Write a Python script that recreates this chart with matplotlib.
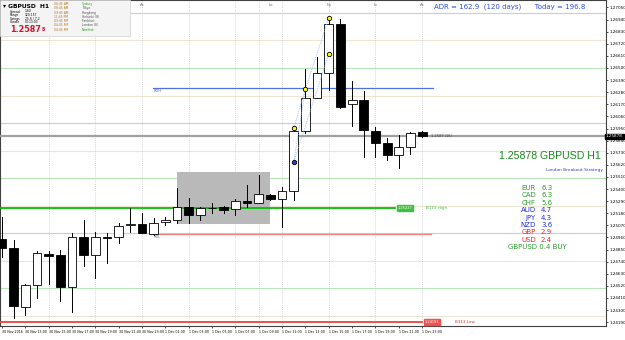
import matplotlib
matplotlib.use("Agg")
import matplotlib.pyplot as plt
import numpy as np
from matplotlib.patches import Rectangle

# Data (GBPUSD H1, 30 Nov 11:00 .. 1 Dec 23:00)
times = ["30 Nov 2016"] + ["30 Nov %02d:00" % h for h in range(12, 24)] + \
        ["1 Dec %02d:00" % h for h in range(0, 24)]
opens = [1.24945, 1.24864, 1.24327, 1.24527, 1.24809, 1.24800, 1.24509, 1.24964,
         1.24800, 1.24964, 1.24964, 1.25073, 1.25082, 1.24991, 1.25100, 1.25118,
         1.25236, 1.25164, 1.25227, 1.25236, 1.25218, 1.25291, 1.25273, 1.25345,
         1.25309, 1.25382, 1.25927, 1.26227, 1.26455, 1.26900, 1.26173, 1.26209,
         1.25927, 1.25818, 1.25709, 1.25782, 1.25918]
highs = [1.25145, 1.24936, 1.24536, 1.24836, 1.24836, 1.24845, 1.25000, 1.25118,
         1.25009, 1.25000, 1.25091, 1.25227, 1.25182, 1.25136, 1.25145, 1.25409,
         1.25318, 1.25236, 1.25273, 1.25245, 1.25309, 1.25436, 1.25527, 1.25355,
         1.25418, 1.25955, 1.26491, 1.26600, 1.26955, 1.26945, 1.26382, 1.26291,
         1.25964, 1.25864, 1.25891, 1.25918, 1.25927]
lows = [1.24782, 1.24227, 1.24255, 1.24409, 1.24536, 1.24382, 1.24282, 1.24700,
        1.24591, 1.24727, 1.24909, 1.25009, 1.25000, 1.24982, 1.25073, 1.25091,
        1.25091, 1.25118, 1.25182, 1.25182, 1.25164, 1.25236, 1.25273, 1.25300,
        1.25055, 1.25300, 1.25909, 1.26227, 1.26300, 1.26136, 1.25973, 1.25691,
        1.25691, 1.25664, 1.25591, 1.25718, 1.25873]
closes = [1.24864, 1.24336, 1.24527, 1.24818, 1.24795, 1.24509, 1.24964, 1.24800,
          1.24964, 1.24955, 1.25064, 1.25082, 1.25000, 1.25091, 1.25118, 1.25236,
          1.25164, 1.25227, 1.25232, 1.25209, 1.25291, 1.25273, 1.25355, 1.25309,
          1.25382, 1.25927, 1.26227, 1.26455, 1.26900, 1.26145, 1.26209, 1.25936,
          1.25818, 1.25709, 1.25782, 1.25909, 1.25878]

bid = 1.25878
b113_high = 1.25227
b113_low = 1.24191
rdh = 1.26318
rdl = 1.24991
box_start, box_end = 15, 23
box_hi, box_lo = 1.25555, 1.25082
quarter_levels = [1.2425, 1.2450, 1.2475, 1.2500, 1.2525, 1.2550, 1.2575,
                  1.2600, 1.2625, 1.2650, 1.2675, 1.2700]
swing_idx = [25, 26, 28, 28]
swing_val = [1.25955, 1.26309, 1.26955, 1.26627]
swing_base = (25, 1.25645)

currencies = ["EUR", "CAD", "CHF", "AUD", "JPY", "NZD", "GBP", "USD"]
strength = [6.3, 6.3, 5.6, 4.7, 4.3, 3.6, 2.9, 2.4]
adr, adr_days, today_range = 162.9, 120, 196.8

W, H = 625, 340
fig = plt.figure(figsize=(W / 100, H / 100), dpi=100)
ax = fig.add_axes([0, 14 / H, 606 / W, 326 / H])
ax.set_xlim(-0.17, 51.76)
ax.set_ylim(1.24155, 1.27118)


def fx(px):
    return px / W


def fy(py):
    return 1 - py / H


# level lines
for lv in quarter_levels:
    r = round(lv * 10000) % 100
    col = "#c8c8f0" if r == 0 else ("#b8e6b8" if r == 50 else "#ece6d2")
    ax.axhline(lv, color=col, lw=0.8, zorder=1)

# grid / session separators
for i in list(range(4, 40, 4)) + [22]:
    ax.axvline(i, color="#c8c8c8", lw=0.6, ls=(0, (1, 1.5)), zorder=1)

# range box
ax.add_patch(Rectangle((box_start, box_lo), box_end - box_start, box_hi - box_lo,
                       facecolor="#b9b9b9", edgecolor="none", zorder=2))

# levels
ax.plot([-0.2, 33.7], [b113_high] * 2, color="#00c000", lw=1.3, zorder=3)
ax.plot([-0.2, 36.0], [b113_low] * 2, color="#f04040", lw=1.3, zorder=3)
ax.plot([12.7, 36.8], [rdl] * 2, color="#f08080", lw=0.9, zorder=3)
ax.plot([12.9, 36.9], [rdh] * 2, color="#5070e0", lw=0.9, zorder=3)
ax.axhline(bid, color="#a0a0a0", lw=1.6, zorder=3)

ax.text(33.9, b113_high, "%.5f" % b113_high, fontsize=2.6, color="white",
        va="center", ha="left", zorder=6,
        bbox=dict(boxstyle="square,pad=0.25", fc="#40c040", ec="#40c040"))
ax.text(36.2, b113_low, "%.5f" % b113_low, fontsize=2.6, color="white",
        va="center", ha="left", zorder=6,
        bbox=dict(boxstyle="square,pad=0.25", fc="#f05050", ec="#f05050"))
ax.text(36.3, b113_high, "B113 High", fontsize=3, color="#40c040", va="center")
ax.text(38.8, b113_low, "B113 Low", fontsize=3, color="#e03030", va="center")
ax.text(13.0, rdl - 0.0003, "RDL", fontsize=2.6, color="#6060c0", va="center")
ax.text(13.0, rdh - 0.0003, "RDH", fontsize=2.6, color="#6060c0", va="center")
ax.text(36.8, bid, "1.2587 (16)", fontsize=2.6, color="#404040", va="center")

# candles
for i, (o, h, l, c) in enumerate(zip(opens, highs, lows, closes)):
    ax.plot([i, i], [l, h], color="black", lw=0.7, zorder=4)
    lo, hi = min(o, c), max(o, c)
    fc = "white" if c >= o else "black"
    ax.add_patch(Rectangle((i - 0.38, lo), 0.76, max(hi - lo, 0.00003),
                           facecolor=fc, edgecolor="black", lw=0.6, zorder=5))

# swing points
for j in [1, 3]:
    ax.plot([swing_base[0], swing_idx[j]], [swing_base[1], swing_val[j]],
            color="#8fb0ff", lw=0.6, ls=(0, (1, 1.2)), zorder=6)
ax.plot(swing_idx[:3], swing_val[:3], color="#8fb0ff", lw=0.6,
        ls=(0, (1, 1.2)), zorder=6)
ax.scatter(swing_idx, swing_val, s=10, color="#ffff00", edgecolor="black",
           lw=0.6, zorder=7)
ax.scatter([swing_base[0]], [swing_base[1]], s=10, color="#2040ff",
           edgecolor="black", lw=0.6, zorder=7)

# session markers
for i, s in [(12, "As"), (23, "Lo"), (28, "Ny"), (32, "Lc"), (36, "As")]:
    ax.text(i, 1.2706, s, fontsize=2.8, color="#707070", ha="center")

# axes styling
ax.yaxis.tick_right()
yt = np.arange(1.2419, 1.2712, 0.0011)
ax.set_yticks(yt)
ax.set_yticklabels(["%.5f" % v for v in yt], fontsize=3)
ax.tick_params(axis="y", length=1.5, width=0.5, pad=1)
ax.set_xticks(range(0, len(times), 2))
ax.set_xticklabels(times[::2], fontsize=2.3, ha="left")
ax.tick_params(axis="x", length=1.5, width=0.5, pad=1.5)
for sp in ax.spines.values():
    sp.set_linewidth(0.8)
    sp.set_color("#404040")

ax.text(1.0, bid, "%.5f" % bid, transform=ax.get_yaxis_transform(),
        fontsize=3, color="white", va="center", ha="left",
        bbox=dict(boxstyle="square,pad=0.2", fc="black", ec="black"), zorder=10,
        clip_on=False)

# info panel
fig.patches.append(Rectangle((0, fy(36)), fx(130), 36 / H, transform=fig.transFigure,
                             facecolor="#f4f4f4", edgecolor="#d0d0d0", lw=0.5))
fig.text(fx(3), fy(6), "▾ GBPUSD  H1", fontsize=4.3, weight="bold", va="center")
for k, (lab, val) in enumerate([("Spread", "1.60"), ("Range", "120.157"),
                                ("Swings", "25.6 / 7.2"), ("Candle", "00:13:03")]):
    fig.text(fx(10), fy(11.5 + k * 3.6), lab, fontsize=2.2, va="center")
    fig.text(fx(25), fy(11.5 + k * 3.6), val, fontsize=2.2, va="center")
fig.text(fx(10), fy(29), "1.2587", fontsize=5.8, weight="bold", color="#e01030",
         va="center")
fig.text(fx(42), fy(29.5), "8", fontsize=3.5, weight="bold", color="#e01030",
         va="center")
sess = [("06:45 AM", "Sydney", "#20a020"), ("08:45 AM", "Tokyo", "#505050"),
        ("09:45 AM", "Hongkong", "#505050"), ("11:45 PM", "Helsinki (8)", "#505050"),
        ("03:45 PM", "Frankfurt", "#505050"), ("04:45 PM", "London (8)", "#505050"),
        ("04:45 PM", "NewYork", "#20a020")]
for k, (t, nm, col) in enumerate(sess):
    fig.text(fx(54), fy(4 + k * 4.3), t, fontsize=2.2, color="#b07020", va="center")
    fig.text(fx(82), fy(4 + k * 4.3), nm, fontsize=2.2, color=col, va="center")

# right side texts
fig.text(fx(585), fy(7), "ADR = %.1f  (%d days)      Today = %.1f" %
         (adr, adr_days, today_range), fontsize=5, color="#3050e0",
         ha="right", va="center")
fig.text(fx(601), fy(156), "%.5f GBPUSD H1" % bid, fontsize=7.6,
         color="#1a8a1a", ha="right", va="center", family="Liberation Sans")
fig.text(fx(603), fy(170), "London Breakout Strategy", fontsize=3.2,
         color="#3040d0", ha="right", va="center")
for k, (cur, v) in enumerate(zip(currencies, strength)):
    col = "#2e9a2e" if v >= 5 else ("#2030e0" if v >= 3.5 else "#f02020")
    fig.text(fx(536), fy(188 + k * 7.4), cur, fontsize=5, color=col,
             ha="right", va="center")
    fig.text(fx(541), fy(188 + k * 7.4), "%.1f" % v, fontsize=5, color=col,
             ha="left", va="center")
fig.text(fx(508), fy(247), "GBPUSD 0.4 BUY", fontsize=5, color="#2e9a2e",
         ha="left", va="center")

plt.savefig("out.png", dpi=100)
